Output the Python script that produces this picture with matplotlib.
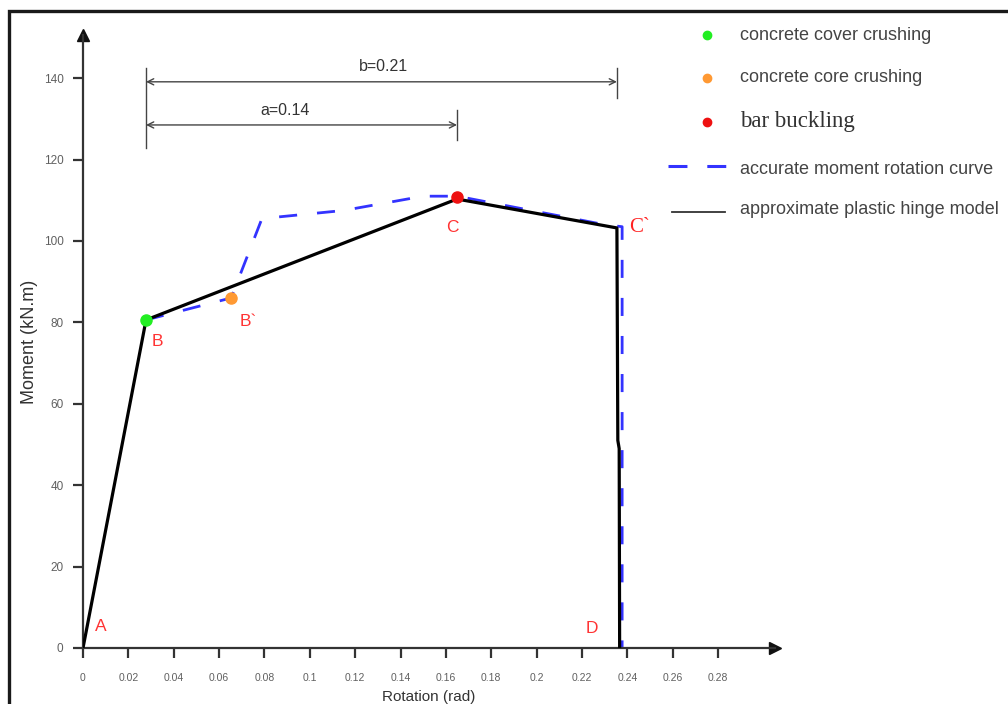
import matplotlib
matplotlib.use('Agg')
from matplotlib import pyplot as plt
from matplotlib.lines import Line2D
from matplotlib.patches import Rectangle

plt.rcParams['font.family'] = ['Liberation Sans', 'DejaVu Sans']

# approximate plastic hinge model (black)
approx_rot = [0.0, 0.0278, 0.1649, 0.2354, 0.2358, 0.2364, 0.2366]
approx_mom = [0.0, 80.6, 110.3, 103.2, 51.0, 49.0, 0.0]

# accurate moment rotation curve (blue dashed)
accurate_rot = [0.0278, 0.0653, 0.0789, 0.115, 0.150, 0.165, 0.230, 0.2377, 0.2377]
accurate_mom = [80.6, 86.0, 105.5, 107.5, 111.0, 111.0, 104.0, 103.5, 0.0]

# damage points
pt_rot = [0.0278, 0.0653, 0.1649]
pt_mom = [80.6, 86.0, 110.7]
pt_colors = ['#22ee22', '#ff9933', '#ee1111']
pt_labels = ['concrete cover crushing', 'concrete core crushing', 'bar buckling']
line_labels = ['accurate moment rotation curve', 'approximate plastic hinge model']

# point names
name_text = ['A', 'B', 'B`', 'C', 'C`', 'D']
name_rot = [0.0079, 0.033, 0.0728, 0.1627, 0.2456, 0.2244]
name_mom = [5.2, 75.4, 80.3, 103.2, 103.2, 4.9]

x_ticks = [0, 0.02, 0.04, 0.06, 0.08, 0.1, 0.12, 0.14, 0.16, 0.18, 0.2, 0.22, 0.24, 0.26, 0.28]
x_tick_labels = ['0', '0.02', '0.04', '0.06', '0.08', '0.1', '0.12', '0.14', '0.16', '0.18',
                 '0.2', '0.22', '0.24', '0.26', '0.28']
y_ticks = [0, 20, 40, 60, 80, 100, 120, 140]

a_value, b_value = 0.14, 0.21

W, H = 1008, 704
fig = plt.figure(figsize=(W / 100, H / 100), dpi=100)
ax = fig.add_axes([83 / W, 56 / H, 692 / W, 613 / H])
ax.set_xlim(0, 0.3051)
ax.set_ylim(0, 150.6)

for side in ['top', 'right']:
    ax.spines[side].set_visible(False)
for side in ['left', 'bottom']:
    ax.spines[side].set_color('#333333')
    ax.spines[side].set_linewidth(1.6)
ax.plot(1, 0, '>', color='#111111', ms=9, transform=ax.transAxes, clip_on=False)
ax.plot(0, 1, '^', color='#111111', ms=9, transform=ax.transAxes, clip_on=False)

ax.set_xticks(x_ticks)
ax.set_xticklabels(x_tick_labels)
ax.set_yticks(y_ticks)
ax.tick_params(axis='both', labelcolor='#606060', color='#333333', width=1.6, length=7)
ax.tick_params(axis='x', labelsize=7.5, pad=11)
ax.tick_params(axis='y', labelsize=8.5, pad=7)

ax.plot(accurate_rot, accurate_mom, color='#3333ff', lw=2.0, dashes=(6.5, 7.2), zorder=2)
ax.plot(approx_rot, approx_mom, color='black', lw=2.3, zorder=3)
for r, m, c in zip(pt_rot, pt_mom, pt_colors):
    ax.plot(r, m, 'o', color=c, ms=8, zorder=4)

for t, r, m in zip(name_text, name_rot, name_mom):
    if t == 'C`':
        ax.text(r, m, t, color='#ff2222', fontsize=15, family='Liberation Serif',
                ha='center', va='center')
    else:
        ax.text(r, m, t, color='#ff3333', fontsize=12.5, ha='center', va='center')

# dimension lines a and b
x_b, x_c, x_cp = approx_rot[1], approx_rot[2], approx_rot[3]
dim_color = '#444444'
arrow = dict(arrowstyle='<->', color=dim_color, lw=1, mutation_scale=11, shrinkA=0, shrinkB=0)
ax.annotate('', xy=(x_cp, 139.1), xytext=(x_b, 139.1), arrowprops=arrow)
ax.annotate('', xy=(x_c, 128.5), xytext=(x_b, 128.5), arrowprops=arrow)
ax.plot([x_b, x_b], [122.9, 142.5], color=dim_color, lw=1)
ax.plot([x_c, x_c], [124.8, 132.2], color=dim_color, lw=1)
ax.plot([x_cp, x_cp], [135.1, 142.5], color=dim_color, lw=1)
ax.text(0.1323, 142.8, f'b={b_value}', fontsize=11.5, color='#333333', ha='center', va='center')
ax.text(0.089, 132.0, f'a={a_value}', fontsize=11.5, color='#333333', ha='center', va='center')

ax.set_xlabel('Rotation (rad)', fontsize=11, color='#333333', labelpad=5)
ax.set_ylabel('Moment (kN.m)', fontsize=13, color='#333333', labelpad=4)

# legend drawn by hand in figure pixels
row_y = [35, 78, 122, 169, 210]
text_x = 740
for i, (c, lab) in enumerate(zip(pt_colors, pt_labels)):
    y = 1 - row_y[i] / H
    fig.add_artist(Line2D([707 / W], [y], ls='none', marker='o', color=c, ms=6))
    if lab == 'bar buckling':
        fig.text(text_x / W, y, lab, family='Liberation Serif', fontsize=16.5,
                 color='#333333', va='center')
    else:
        fig.text(text_x / W, y, lab, fontsize=13, color='#444444', va='center')
y = 1 - row_y[3] / H
fig.add_artist(Line2D([668 / W, 727 / W], [y + 3 / H, y + 3 / H], color='#3333ff', lw=2.2,
                      dashes=(6.2, 6.5)))
fig.text(text_x / W, y, line_labels[0], fontsize=13, color='#444444', va='center')
y = 1 - row_y[4] / H
fig.add_artist(Line2D([672 / W, 725 / W], [y - 2 / H, y - 2 / H], color='#333333', lw=1.3))
fig.text(text_x / W, y, line_labels[1], fontsize=13, color='#444444', va='center')

fig.patches.append(Rectangle((9 / W, -0.1), 1.2, 1 - 11 / H + 0.1, transform=fig.transFigure,
                             fill=False, lw=2.4, edgecolor='#1a1a1a'))

fig.savefig('out.png', dpi=100)
